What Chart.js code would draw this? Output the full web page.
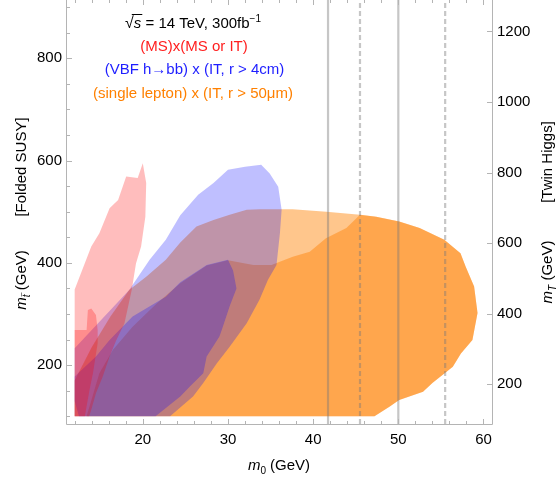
<!DOCTYPE html>
<html><head><meta charset="utf-8">
<script src="https://cdn.jsdelivr.net/npm/chart.js@4.4.0/dist/chart.umd.min.js"></script>
<style>html,body{margin:0;padding:0;background:#fff;overflow:hidden}canvas{display:block}</style>
</head><body>
<canvas id="c" width="556" height="479"></canvas>
<script>
// ---- data ----
const xTicks = [20, 30, 40, 50, 60];
const yTicksLeft = [200, 400, 600, 800];
const yTicksRight = [200, 400, 600, 800, 1000, 1200];
const vLineX = [41.75, 45.5, 50.0, 55.5];
const vLineDashed = [false, true, false, true];

const redOuterX = [12, 12, 13.95, 14.9, 16.1, 17.1, 18.05, 19.4, 20.0, 20.4, 20.3, 19.8, 19.2, 18.7, 17.85, 16.9, 16.1, 15.3, 14.5, 13.9, 13.7];
const redOuterY = [100, 348, 432, 458, 507, 523, 569, 566, 595, 556, 490, 432, 399, 347, 282, 249, 217, 178, 145, 110, 100];
const redInnerX = [12, 12, 13.4, 13.55, 13.95, 14.5, 14.7, 14.7, 14.15, 13.75, 13.4, 13.2];
const redInnerY = [100, 269, 269, 308, 311, 298, 269, 243, 184, 152, 119, 100];

const blueOuterX = [12, 12, 18.4, 20.8, 22.7, 24.4, 26.5, 28.3, 30.0, 32.0, 33.9, 34.9, 35.9, 36.3, 36.1, 35.7, 34.7, 33.7, 32.2, 30.2, 28.7, 27.1, 25.9, 23.2];
const blueOuterY = [100, 233, 347, 406, 445, 493, 533, 556, 582, 588, 592, 575, 549, 504, 458, 396, 367, 328, 282, 236, 204, 165, 139, 100];
const blueInnerX = [12.5, 12, 12, 14.5, 16.1, 18.8, 22.7, 24.4, 27.5, 30.0, 30.6, 31.0, 30.2, 29.4, 29.0, 27.5, 27.1, 25.5, 24.4, 21.5];
const blueInnerY = [100, 130, 178, 217, 249, 295, 334, 362, 396, 406, 385, 350, 315, 275, 256, 217, 184, 158, 139, 100];

const orangeOuterX = [12, 12, 14, 16.2, 18.4, 20.4, 22.7, 24.4, 26.3, 28.3, 30.2, 32.2, 33.75, 37.6, 41.55, 45.5, 47.4, 50.1, 52.5, 55.4, 57.3, 57.9, 58.9, 59.3, 58.7, 57.35, 56.4, 54.0, 52.9, 50.1, 49.0, 47.2];
const orangeOuterY = [100, 170, 235, 295, 347, 373, 406, 440, 471, 484, 494, 504, 505, 505, 500, 494, 490, 481, 468, 445, 419, 393, 354, 302, 249, 223, 197, 165, 148, 132, 119, 100];
const orangeInnerX = [13.4, 14.9, 16.5, 18.8, 21.6, 24.4, 27.5, 30.0, 33.0, 35.1, 37.6, 39.6, 41.5, 43.9, 45.5, 47.4, 50.1, 52.5, 55.4, 57.3, 57.9, 58.9, 59.3, 58.7, 57.35, 56.4, 54.0, 52.9, 50.1, 49.0, 47.2];
const orangeInnerY = [100, 184, 230, 275, 320, 360, 395, 405, 396, 396, 412, 422, 448, 468, 494, 490, 481, 468, 445, 419, 393, 354, 302, 249, 223, 197, 165, 148, 132, 119, 100];

// ---- styling ----
const FONT = "'Liberation Sans', Arial, Helvetica, sans-serif";
const RED = 'rgba(255,0,0,0.26)';
const BLUE = 'rgba(0,0,255,0.25)';
const ORANGE = 'rgba(255,128,0,0.45)';
const X_MIN = 11.1, X_MAX = 61.0, Y_MIN = 85, Y_MAX = 914, Y2_MIN = 87.5, Y2_MAX = 1289;

const zip = (xs, ys) => xs.map((x, i) => ({x, y: ys[i]}));
const region = (xs, ys, color) => ({
  type: 'line', data: zip(xs, ys), fill: 'shape', backgroundColor: color,
  borderWidth: 0, borderColor: 'rgba(0,0,0,0)', pointRadius: 0, tension: 0
});
const vlines = vLineX.map((x, i) => ({
  type: 'line', data: [{x, y: Y_MIN}, {x, y: Y_MAX}], fill: false,
  borderColor: 'rgba(120,120,120,0.42)', borderWidth: 2.2,
  borderDash: vLineDashed[i] ? [5, 3] : [], pointRadius: 0
}));

const datasets = [
  ...vlines,
  region(redInnerX, redInnerY, RED),
  region(redOuterX, redOuterY, RED),
  region(blueInnerX, blueInnerY, BLUE),
  region(blueOuterX, blueOuterY, BLUE),
  region(orangeInnerX, orangeInnerY, ORANGE),
  region(orangeOuterX, orangeOuterY, ORANGE)
];

function drawRuns(ctx, runs, x, y, align) {
  let total = 0;
  runs.forEach(r => { ctx.font = r.font; r.w = ctx.measureText(r.t).width; total += r.w; });
  let cx = align === 'center' ? x - total / 2 : x;
  runs.forEach(r => {
    ctx.font = r.font; ctx.fillStyle = r.color || '#000';
    ctx.fillText(r.t, cx, y + (r.dy || 0));
    if (r.overline) {
      ctx.strokeStyle = r.color || '#000'; ctx.lineWidth = 1;
      ctx.beginPath(); ctx.moveTo(cx - 2, y - 13.5); ctx.lineTo(cx + r.w + 1, y - 13.5); ctx.stroke();
    }
    if (r.tilde) {
      ctx.font = '8px ' + FONT;
      ctx.fillText('~', cx + 0.5, y + (r.dy || 0) - 6);
    }
    cx += r.w;
  });
}

const framePlugin = {
  id: 'frame',
  afterDraw(chart) {
    const ctx = chart.ctx, a = chart.chartArea, sx = chart.scales.x, sy = chart.scales.y, sy2 = chart.scales.y2;
    ctx.save();
    ctx.strokeStyle = '#b4b4b4'; ctx.lineWidth = 1;
    const seg = (x1, y1, x2, y2) => { ctx.beginPath(); ctx.moveTo(x1, y1); ctx.lineTo(x2, y2); ctx.stroke(); };
    seg(a.left - 0.5, a.top, a.left - 0.5, a.bottom + 0.5);
    seg(a.right + 0.5, a.top, a.right + 0.5, a.bottom + 0.5);
    seg(a.left - 0.5, a.bottom + 0.5, a.right + 0.5, a.bottom + 0.5);
    for (let v = 12; v <= 60; v += 2) {
      const px = Math.round(sx.getPixelForValue(v)) + 0.5;
      const L = xTicks.includes(v) ? 5 : 3;
      seg(px, a.bottom, px, a.bottom - L);
      seg(px, a.top, px, a.top + L);
    }
    for (let v = 100; v <= 900; v += 50) {
      const py = Math.round(sy.getPixelForValue(v)) + 0.5;
      const L = yTicksLeft.includes(v) ? 5 : 3;
      seg(a.left, py, a.left + L, py);
    }
    yTicksRight.forEach(v => {
      const py = Math.round(sy2.getPixelForValue(v)) + 0.5;
      seg(a.right, py, a.right - 5, py);
    });

    // annotation text
    ctx.textBaseline = 'alphabetic';
    const f15 = '15px ' + FONT, i15 = 'italic 15px ' + FONT, f10 = '10px ' + FONT, i10 = 'italic 10px ' + FONT;
    drawRuns(ctx, [{t: '\u221A', font: '16px ' + FONT}, {t: 's', font: i15, overline: true}, {t: ' = 14 TeV, 300fb', font: f15}, {t: '\u22121', font: f10, dy: -6}], 193, 28, 'center');
    drawRuns(ctx, [{t: '(MS)x(MS or IT)', font: f15, color: 'rgb(255,30,30)'}], 194, 50.5, 'center');
    drawRuns(ctx, [{t: '(VBF h\u2192bb) x (IT, r > 4cm)', font: f15, color: 'rgb(30,30,255)'}], 194.5, 73.5, 'center');
    drawRuns(ctx, [{t: '(single lepton) x (IT, r > 50\u03BCm)', font: f15, color: 'rgb(255,128,0)'}], 193, 97.5, 'center');

    // axis titles
    drawRuns(ctx, [{t: 'm', font: i15}, {t: '0', font: f10, dy: 4}, {t: ' (GeV)', font: f15}], 279, 470, 'center');

    ctx.save(); ctx.translate(26, 167); ctx.rotate(-Math.PI / 2);
    drawRuns(ctx, [{t: '[Folded SUSY]', font: f15}], 0, 0, 'center'); ctx.restore();
    ctx.save(); ctx.translate(26, 280); ctx.rotate(-Math.PI / 2);
    drawRuns(ctx, [{t: 'm', font: i15}, {t: 't', font: i10, dy: 4, tilde: true}, {t: ' (GeV)', font: f15}], 0, 0, 'center'); ctx.restore();
    ctx.save(); ctx.translate(552, 162); ctx.rotate(-Math.PI / 2);
    drawRuns(ctx, [{t: '[Twin Higgs]', font: f15}], 0, 0, 'center'); ctx.restore();
    ctx.save(); ctx.translate(552, 272); ctx.rotate(-Math.PI / 2);
    drawRuns(ctx, [{t: 'm', font: i15}, {t: 'T', font: i10, dy: 4}, {t: ' (GeV)', font: f15}], 0, 0, 'center'); ctx.restore();
    ctx.restore();
  }
};

const zeroPad = s => { s.paddingTop = 0; s.paddingBottom = 0; s.paddingLeft = 0; s.paddingRight = 0; };
const tickFont = {family: FONT, size: 15};
new Chart(document.getElementById('c'), {
  type: 'line',
  data: {datasets},
  options: {
    responsive: false, animation: false, devicePixelRatio: 1,
    layout: {padding: 0},
    plugins: {legend: {display: false}, tooltip: {enabled: false}},
    scales: {
      x: {
        type: 'linear', position: 'bottom', min: X_MIN, max: X_MAX,
        grid: {display: false, drawTicks: false}, border: {display: false},
        afterBuildTicks: s => { s.ticks = [X_MIN, ...xTicks, X_MAX].map(v => ({value: v})); },
        afterFit: s => { s.height = 55; zeroPad(s); },
        ticks: {font: tickFont, color: '#000', padding: 7, maxRotation: 0, autoSkip: false,
          callback: v => xTicks.includes(v) ? String(v) : null}
      },
      y: {
        type: 'linear', position: 'left', min: Y_MIN, max: Y_MAX,
        grid: {display: false, drawTicks: false}, border: {display: false},
        afterBuildTicks: s => { s.ticks = [Y_MIN, ...yTicksLeft, Y_MAX].map(v => ({value: v})); },
        afterFit: s => { s.width = 67; zeroPad(s); },
        ticks: {font: tickFont, color: '#000', padding: 5, autoSkip: false,
          callback: v => yTicksLeft.includes(v) ? String(v) : null}
      },
      y2: {
        type: 'linear', position: 'right', min: Y2_MIN, max: Y2_MAX,
        grid: {display: false, drawTicks: false}, border: {display: false},
        afterBuildTicks: s => { s.ticks = [Y2_MIN, ...yTicksRight, Y2_MAX].map(v => ({value: v})); },
        afterFit: s => { s.width = 64; zeroPad(s); },
        ticks: {font: tickFont, color: '#000', padding: 5, autoSkip: false,
          callback: v => yTicksRight.includes(v) ? String(v) : null}
      }
    }
  },
  plugins: [framePlugin]
});
</script>
</body></html>
